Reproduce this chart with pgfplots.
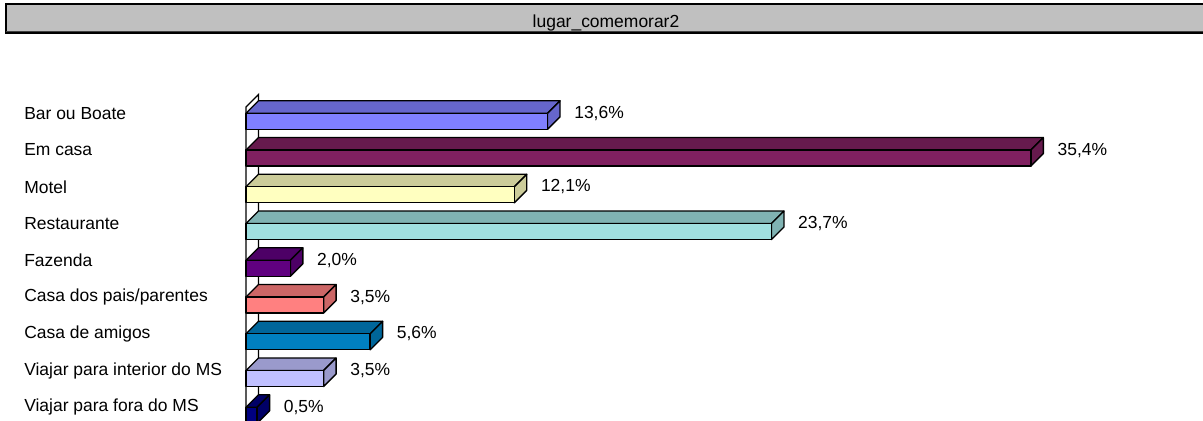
\documentclass[border=0pt]{standalone}
\usepackage{pgfplots}
\usepackage{pgfplotstable}
\pgfplotsset{compat=1.18}
\usepackage{fontspec}
\setmainfont{Liberation Sans}
\definecolor{cA}{HTML}{8080FF}
\definecolor{cB}{HTML}{802060}
\definecolor{cC}{HTML}{FFFFC0}
\definecolor{cD}{HTML}{A0E0E0}
\definecolor{cE}{HTML}{600080}
\definecolor{cF}{HTML}{FF8080}
\definecolor{cG}{HTML}{0080C0}
\definecolor{cH}{HTML}{C0C0FF}
\definecolor{cI}{HTML}{000080}
\definecolor{hdr}{HTML}{C0C0C0}
\newcommand{\lblfont}{\fontsize{13.1}{15}\selectfont}
% 3D bar: #1 = category index, #2 = value, #3 = colour
\newcommand{\bartd}[3]{%
  \pgfmathsetmacro\ya{#1-0.3401}%
  \pgfmathsetmacro\yb{#1+0.4354}%
  \pgfmathsetmacro\ybb{#1+0.4354-0.3401}%
  \pgfmathsetmacro\xb{#2+0.5638}%
  \addplot[fill=#3!80!black, draw=black, line width=1pt, line join=round] coordinates {(0,#1) (0.5638,\ya) (\xb,\ya) (#2,#1)} -- cycle;
  \addplot[fill=#3!80!black, draw=black, line width=1pt, line join=round] coordinates {(#2,#1) (\xb,\ya) (\xb,\ybb) (#2,\yb)} -- cycle;
  \addplot[fill=#3, draw=black, line width=1pt, line join=round] coordinates {(0,#1) (#2,#1) (#2,\yb) (0,\yb)} -- cycle;
}
\pgfplotstableread{
k v
0 13.6
1 35.4
2 12.1
3 23.7
4 2.0
5 3.5
6 5.6
7 3.5
8 0.5
}\datatab
\begin{document}
\begin{tikzpicture}
\begin{axis}[
  scale only axis, width=902.25pt, height=315pt,
  xmin=-11.096, xmax=43.166, ymin=-3.083, ymax=8.346, y dir=reverse,
  axis line style={draw=none},
  xtick=\empty,
  ytick={0,...,8},
  yticklabels={Bar ou Boate, Em casa, Motel, Restaurante, Fazenda, Casa dos pais/parentes, Casa de amigos, Viajar para interior do MS, Viajar para fora do MS},
  major tick length=0pt,
  ytick style={draw=none},
  yticklabel style={anchor=west, inner sep=0pt, xshift=18pt, font=\lblfont},
  clip=true,
]
% wall
\addplot[fill=white, draw=black, line width=1pt, forget plot] coordinates {(0,9) (0,-0.171) (0.5638,-0.511) (0.5638,9)} -- cycle;
\bartd{0}{13.6}{cA}
\bartd{1}{35.4}{cB}
\bartd{2}{12.1}{cC}
\bartd{3}{23.7}{cD}
\bartd{4}{2.0}{cE}
\bartd{5}{3.5}{cF}
\bartd{6}{5.6}{cG}
\bartd{7}{3.5}{cH}
\bartd{8}{0.5}{cI}
\addplot[draw=none, forget plot, nodes near coords={\pgfmathprintnumber{\pgfplotspointmeta}\%},
  point meta=explicit,
  every node near coord/.append style={anchor=west, inner sep=0pt, xshift=10.5pt, font=\lblfont,
    /pgf/number format/.cd, fixed, fixed zerofill, precision=1, use comma, assume math mode=true}]
  table[x expr=\thisrow{v}+0.5638, y=k, meta=v] {\datatab};
\end{axis}
\begin{scope}[shift={(current axis.north west)}, x=0.75pt, y=-0.75pt]
  \fill[hdr] (6,4) rectangle (1215,33);
  \draw[black, line width=1.2pt] (1215,4) -- (6,4) -- (6,33) -- (1215,33);
  \draw[black!75, line width=1.2pt] (6,31.5) -- (1215,31.5);
  \node[anchor=base, inner sep=0pt, font=\lblfont] at (606,27.5) {lugar\_comemorar2};
\end{scope}
\pgfresetboundingbox
\path[use as bounding box] (current axis.south west) rectangle (current axis.north east);
\end{tikzpicture}
\end{document}
